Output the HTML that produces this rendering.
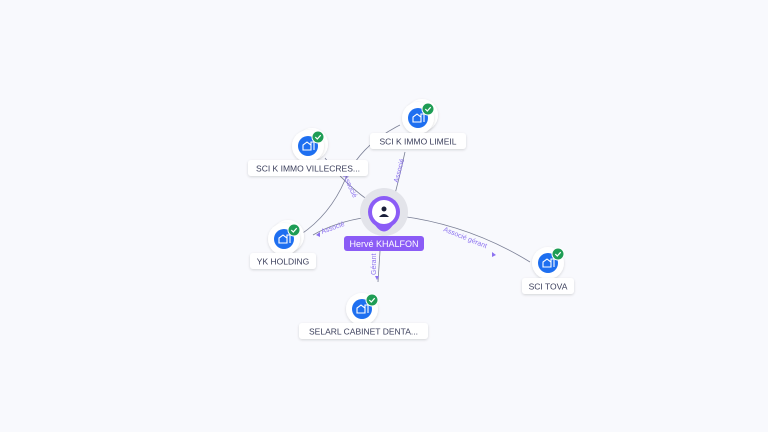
<!DOCTYPE html>
<html><head><meta charset="utf-8"><style>
html,body{margin:0;padding:0;background:#f8f9fd;}
svg{display:block;font-family:"Liberation Sans",sans-serif;}
.lbl{fill:#3b3f5c;font-size:8.5px;}
.el{fill:#8c72f0;font-size:7px;}
</style></head><body>
<svg width="768" height="432" viewBox="0 0 768 432">
<defs>
<filter id="sh" x="-30%" y="-30%" width="160%" height="160%"><feDropShadow dx="0" dy="1" stdDeviation="1.2" flood-color="#000" flood-opacity="0.15"/></filter>
<g id="co">
<circle r="16" fill="#fff" filter="url(#sh)"/>
<circle r="10" fill="#1e6ff0"/>
<path d="M-5 4 V-1 L-1 -4 L3 -1 V4 Z M3 4 V-4 H6 V4" fill="none" stroke="#fff" stroke-width="1.1"/>
<circle cx="10" cy="-9" r="6" fill="#1f9d55" stroke="#fff" stroke-width="1"/>
<path d="M7.3 -9 L9.3 -7 L12.7 -10.8" fill="none" stroke="#fff" stroke-width="1.2"/>
</g>
</defs>
<g fill="none" stroke="#7a7f95" stroke-width="0.8">
<path d="M394 198 Q400 175 405 152"/>
<path d="M400 125 Q360 145 345 180 Q330 215 300 235"/>
<path d="M325 158 Q345 185 375 205"/>
<path d="M368 217 Q335 222 313 235"/>
<path d="M380 251 L378 282"/>
<path d="M400 216 Q470 225 530 262"/>
</g>
<g fill="#8c72f0">
<path d="M316 235 l4 -3 l0 5z"/>
<path d="M377 280 l-2 -4 l4 0z"/>
<path d="M496 255 l-4 -3 l0 5z"/>
</g>
<text class="el" transform="translate(322,234) rotate(-20)">Associé</text>
<text class="el" transform="translate(398,183) rotate(-75)">Associé</text>
<text class="el" transform="translate(343,176) rotate(65)">Associé</text>
<text class="el" transform="translate(376,275) rotate(-90)">Gérant</text>
<text class="el" transform="translate(443,231) rotate(22)">Associé gérant</text>
<circle cx="384" cy="212" r="24" fill="#e3e4ea"/>
<path d="M371 218 Q384 245 397 218 Z" fill="#8b5cf6"/>
<circle cx="384" cy="212" r="16" fill="#8b5cf6"/>
<circle cx="384" cy="212" r="12" fill="#fff"/>
<circle cx="384" cy="209" r="2.5" fill="#1a1f3a"/>
<path d="M379 217 Q384 211 389 217 Z" fill="#1a1f3a"/>
<rect x="344" y="236" width="80" height="15" rx="3" fill="#8b5cf6"/>
<text x="384" y="247" text-anchor="middle" fill="#fff" font-size="9">Hervé KHALFON</text>
<circle cx="312" cy="144" r="16" fill="#fff" filter="url(#sh)"/>
<use href="#co" x="308" y="146"/>
<rect x="248" y="160" width="120" height="16" rx="3" fill="#fff" filter="url(#sh)"/>
<text class="lbl" x="308" y="171.5" text-anchor="middle">SCI K IMMO VILLECRES...</text>
<circle cx="422" cy="115" r="16" fill="#fff" filter="url(#sh)"/>
<use href="#co" x="418" y="118"/>
<rect x="370" y="133" width="96" height="16" rx="3" fill="#fff" filter="url(#sh)"/>
<text class="lbl" x="418" y="144.5" text-anchor="middle">SCI K IMMO LIMEIL</text>
<circle cx="288" cy="236" r="16" fill="#fff" filter="url(#sh)"/>
<use href="#co" x="284" y="239"/>
<rect x="250" y="253" width="66" height="16" rx="3" fill="#fff" filter="url(#sh)"/>
<text class="lbl" x="283" y="264.5" text-anchor="middle">YK HOLDING</text>
<use href="#co" x="362" y="309"/>
<rect x="299" y="323" width="129" height="16" rx="3" fill="#fff" filter="url(#sh)"/>
<text class="lbl" x="363.5" y="334.5" text-anchor="middle">SELARL CABINET DENTA...</text>
<use href="#co" x="548" y="263"/>
<rect x="522" y="278" width="52" height="16" rx="3" fill="#fff" filter="url(#sh)"/>
<text class="lbl" x="548" y="289.5" text-anchor="middle">SCI TOVA</text>
</svg>
</body></html>
